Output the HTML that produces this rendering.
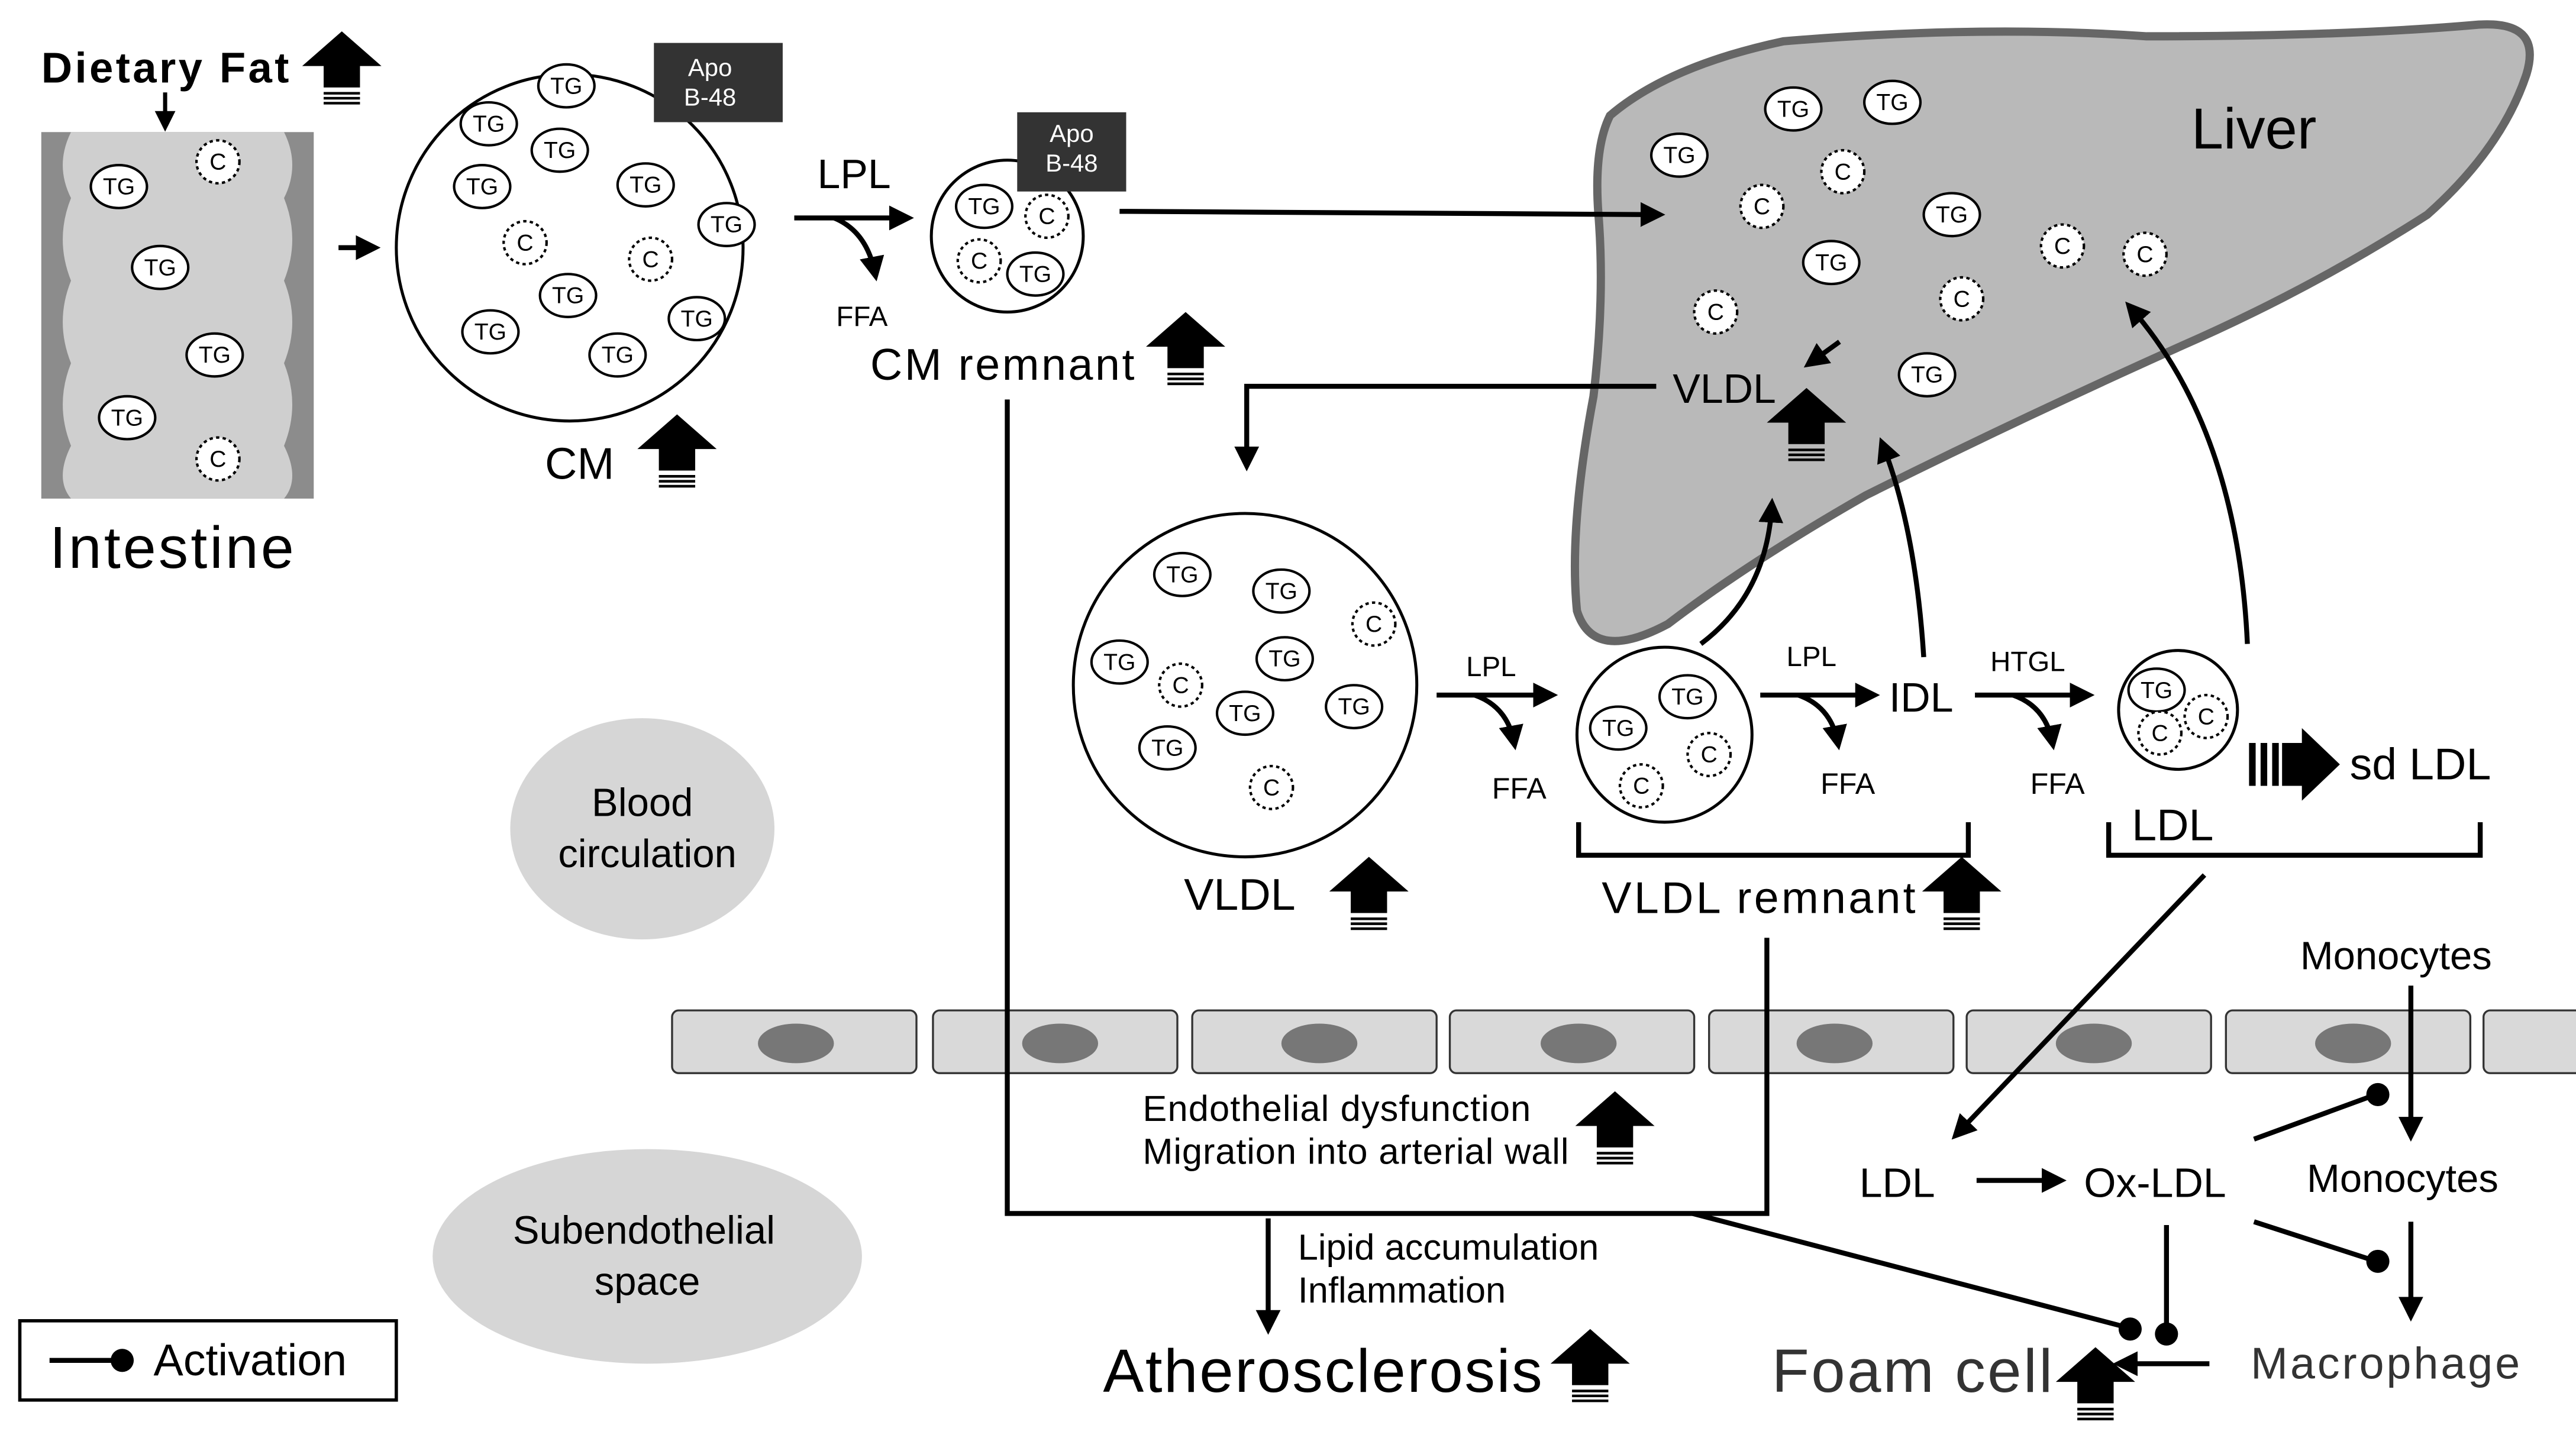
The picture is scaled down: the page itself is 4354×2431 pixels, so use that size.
<!DOCTYPE html>
<html><head><meta charset="utf-8"><style>html,body{margin:0;padding:0;background:#fff}svg{display:block}text{font-family:"Liberation Sans",sans-serif}</style></head><body>
<svg width="4354" height="2431" viewBox="0 0 1560 871" preserveAspectRatio="none" xmlns="http://www.w3.org/2000/svg">
<defs>
<marker id="ah" markerWidth="6" markerHeight="6" refX="3.5" refY="2.5" orient="auto" markerUnits="strokeWidth"><path d="M0,0 L5,2.5 L0,5 z" fill="#000"/></marker>
<g id="up"><polygon points="0,-26 24,-5 11,-5 11,8 -11,8 -11,-5 -24,-5" fill="#000"/><path d="M-11,11.5H11M-11,14.5H11M-11,17.5H11" stroke="#000" stroke-width="1.6"/></g>
<g id="tg"><ellipse rx="17" ry="13" fill="#fff" stroke="#000" stroke-width="1.5"/></g>
<g id="c"><circle r="13" fill="#fff" stroke="#000" stroke-width="1.5" stroke-dasharray="2,2"/></g>
</defs>
<style>.t{text-anchor:middle;dominant-baseline:middle}</style>

<path d="M975,70 Q1010,40 1080,25 Q1200,15 1300,22 Q1420,22 1500,15 Q1540,12 1530,45 Q1515,90 1470,130 Q1400,175 1320,210 Q1220,255 1130,300 Q1060,340 1010,378 Q965,402 955,370 Q950,320 965,240 Q972,180 968,130 Q965,90 975,70 Z" fill="#b9b9b9" stroke="#666" stroke-width="5"/>

<rect x="25" y="80" width="165" height="222" fill="#8c8c8c"/>
<path d="M43,80 Q33,100 43,120 Q33,145 43,170 Q33,195 43,220 Q33,245 43,270 Q33,290 43,302 L172,302 Q182,290 172,270 Q182,245 172,220 Q182,195 172,170 Q182,145 172,120 Q182,100 172,80 Z" fill="#cfcfcf"/>
<g class="t" font-size="14">
<use href="#tg" x="72" y="113"/><text x="72" y="114">TG</text>
<use href="#c" x="132" y="98"/><text x="132" y="99">C</text>
<use href="#tg" x="97" y="162"/><text x="97" y="163">TG</text>
<use href="#tg" x="130" y="215"/><text x="130" y="216">TG</text>
<use href="#tg" x="77" y="253"/><text x="77" y="254">TG</text>
<use href="#c" x="132" y="278"/><text x="132" y="279">C</text>
</g>
<text x="25" y="50" font-size="26" font-weight="bold" textLength="150">Dietary Fat</text>
<use href="#up" x="207" y="45"/>
<line x1="100" y1="56" x2="100" y2="76" stroke="#000" stroke-width="2.5" marker-end="url(#ah)"/>
<text x="30" y="344" font-size="36" textLength="148">Intestine</text>
<line x1="205" y1="150" x2="226" y2="150" stroke="#000" stroke-width="3" marker-end="url(#ah)"/>

<circle cx="345" cy="150" r="105" fill="#fff" stroke="#000" stroke-width="1.8"/>
<g class="t" font-size="14">
<use href="#tg" x="343" y="52"/><text x="343" y="53">TG</text>
<use href="#tg" x="296" y="75"/><text x="296" y="76">TG</text>
<use href="#tg" x="339" y="91"/><text x="339" y="92">TG</text>
<use href="#tg" x="292" y="113"/><text x="292" y="114">TG</text>
<use href="#tg" x="391" y="112"/><text x="391" y="113">TG</text>
<use href="#tg" x="440" y="136"/><text x="440" y="137">TG</text>
<use href="#c" x="318" y="147"/><text x="318" y="148">C</text>
<use href="#c" x="394" y="157"/><text x="394" y="158">C</text>
<use href="#tg" x="344" y="179"/><text x="344" y="180">TG</text>
<use href="#tg" x="422" y="193"/><text x="422" y="194">TG</text>
<use href="#tg" x="297" y="201"/><text x="297" y="202">TG</text>
<use href="#tg" x="374" y="215"/><text x="374" y="216">TG</text>
</g>
<rect x="396" y="26" width="78" height="48" fill="#333"/>
<text x="430" y="42" class="t" fill="#fff" font-size="15">Apo</text><text x="430" y="60" class="t" fill="#fff" font-size="15">B-48</text>
<text x="330" y="290" font-size="27">CM</text>
<use href="#up" x="410" y="277"/>

<text x="495" y="114" font-size="25">LPL</text>
<line x1="481" y1="132" x2="549" y2="132" stroke="#000" stroke-width="3" marker-end="url(#ah)"/>
<path d="M505,132 Q525,140 530,166" fill="none" stroke="#000" stroke-width="3" marker-end="url(#ah)"/>
<text x="522" y="193" class="t" font-size="17">FFA</text>
<circle cx="610" cy="143" r="46" fill="#fff" stroke="#000" stroke-width="1.8"/>
<g class="t" font-size="14">
<use href="#tg" x="596" y="125"/><text x="596" y="126">TG</text>
<use href="#c" x="634" y="131"/><text x="634" y="132">C</text>
<use href="#c" x="593" y="158"/><text x="593" y="159">C</text>
<use href="#tg" x="627" y="166"/><text x="627" y="167">TG</text>
</g>
<rect x="616" y="68" width="66" height="48" fill="#333"/>
<text x="649" y="82" class="t" fill="#fff" font-size="15">Apo</text><text x="649" y="100" class="t" fill="#fff" font-size="15">B-48</text>
<text x="527" y="230" font-size="27" textLength="160">CM remnant</text>
<use href="#up" x="718" y="215"/>
<line x1="678" y1="128" x2="1004" y2="130" stroke="#000" stroke-width="3" marker-end="url(#ah)"/>

<text x="1327" y="90" font-size="35">Liver</text>
<g class="t" font-size="14">
<use href="#tg" x="1086" y="66"/><text x="1086" y="67">TG</text>
<use href="#tg" x="1146" y="62"/><text x="1146" y="63">TG</text>
<use href="#tg" x="1017" y="94"/><text x="1017" y="95">TG</text>
<use href="#c" x="1116" y="104"/><text x="1116" y="105">C</text>
<use href="#c" x="1067" y="125"/><text x="1067" y="126">C</text>
<use href="#tg" x="1182" y="130"/><text x="1182" y="131">TG</text>
<use href="#c" x="1249" y="149"/><text x="1249" y="150">C</text>
<use href="#c" x="1299" y="154"/><text x="1299" y="155">C</text>
<use href="#tg" x="1109" y="159"/><text x="1109" y="160">TG</text>
<use href="#c" x="1188" y="181"/><text x="1188" y="182">C</text>
<use href="#c" x="1039" y="189"/><text x="1039" y="190">C</text>
<use href="#tg" x="1167" y="227"/><text x="1167" y="228">TG</text>
</g>
<text x="1013" y="244" font-size="25">VLDL</text>
<use href="#up" x="1094" y="261"/>
<line x1="1114" y1="207" x2="1096" y2="220" stroke="#000" stroke-width="3" marker-end="url(#ah)"/>
<polyline points="1003,234 755,234 755,281" fill="none" stroke="#000" stroke-width="3" marker-end="url(#ah)"/>

<circle cx="754" cy="415" r="104" fill="#fff" stroke="#000" stroke-width="1.8"/>
<g class="t" font-size="14">
<use href="#tg" x="716" y="348"/><text x="716" y="349">TG</text>
<use href="#tg" x="776" y="358"/><text x="776" y="359">TG</text>
<use href="#c" x="832" y="378"/><text x="832" y="379">C</text>
<use href="#tg" x="678" y="401"/><text x="678" y="402">TG</text>
<use href="#tg" x="778" y="399"/><text x="778" y="400">TG</text>
<use href="#c" x="715" y="415"/><text x="715" y="416">C</text>
<use href="#tg" x="754" y="432"/><text x="754" y="433">TG</text>
<use href="#tg" x="820" y="428"/><text x="820" y="429">TG</text>
<use href="#tg" x="707" y="453"/><text x="707" y="454">TG</text>
<use href="#c" x="770" y="477"/><text x="770" y="478">C</text>
</g>
<text x="717" y="551" font-size="27">VLDL</text>
<use href="#up" x="829" y="545"/>

<text x="903" y="405" class="t" font-size="17">LPL</text>
<line x1="870" y1="421" x2="939" y2="421" stroke="#000" stroke-width="3" marker-end="url(#ah)"/>
<path d="M893,421 Q913,428 917,450" fill="none" stroke="#000" stroke-width="3" marker-end="url(#ah)"/>
<text x="920" y="479" class="t" font-size="18">FFA</text>

<circle cx="1008" cy="445" r="53" fill="#fff" stroke="#000" stroke-width="1.8"/>
<g class="t" font-size="14">
<use href="#tg" x="1022" y="422"/><text x="1022" y="423">TG</text>
<use href="#tg" x="980" y="441"/><text x="980" y="442">TG</text>
<use href="#c" x="1035" y="457"/><text x="1035" y="458">C</text>
<use href="#c" x="994" y="476"/><text x="994" y="477">C</text>
</g>

<text x="1097" y="399" class="t" font-size="17">LPL</text>
<line x1="1066" y1="421" x2="1134" y2="421" stroke="#000" stroke-width="3" marker-end="url(#ah)"/>
<path d="M1089,421 Q1109,428 1113,450" fill="none" stroke="#000" stroke-width="3" marker-end="url(#ah)"/>
<text x="1119" y="476" class="t" font-size="18">FFA</text>
<text x="1144" y="431" font-size="25">IDL</text>
<text x="1228" y="402" class="t" font-size="17">HTGL</text>
<line x1="1196" y1="421" x2="1264" y2="421" stroke="#000" stroke-width="3" marker-end="url(#ah)"/>
<path d="M1219,421 Q1239,428 1243,450" fill="none" stroke="#000" stroke-width="3" marker-end="url(#ah)"/>
<text x="1246" y="476" class="t" font-size="18">FFA</text>

<circle cx="1319" cy="430" r="36" fill="#fff" stroke="#000" stroke-width="1.8"/>
<g class="t" font-size="14">
<use href="#tg" x="1306" y="418"/><text x="1306" y="419">TG</text>
<use href="#c" x="1336" y="434"/><text x="1336" y="435">C</text>
<use href="#c" x="1308" y="444"/><text x="1308" y="445">C</text>
</g>
<text x="1291" y="509" font-size="27">LDL</text>
<path d="M1362,450h4v26h-4zM1369,450h4v26h-4zM1376,450h4v26h-4z" fill="#000"/>
<polygon points="1382,450 1394,450 1394,441 1417,463 1394,485 1394,476 1382,476" fill="#000"/>
<text x="1423" y="472" font-size="27">sd LDL</text>

<path d="M1030,390 Q1070,360 1073,306" fill="none" stroke="#000" stroke-width="3" marker-end="url(#ah)"/>
<path d="M1165,398 Q1160,320 1140,269" fill="none" stroke="#000" stroke-width="3" marker-end="url(#ah)"/>
<path d="M1361,390 Q1355,260 1290,186" fill="none" stroke="#000" stroke-width="3" marker-end="url(#ah)"/>

<path d="M956,498V518H1192V498" fill="none" stroke="#000" stroke-width="3"/>
<path d="M1277,498V518H1502V498" fill="none" stroke="#000" stroke-width="3"/>
<text x="970" y="553" font-size="27" textLength="190">VLDL remnant</text>
<use href="#up" x="1188" y="545"/>

<ellipse cx="389" cy="502" rx="80" ry="67" fill="#d6d6d6"/>
<text x="389" y="488" class="t" font-size="24">Blood</text><text x="392" y="519" class="t" font-size="24">circulation</text>
<ellipse cx="392" cy="761" rx="130" ry="65" fill="#d6d6d6"/>
<text x="390" y="747" class="t" font-size="24">Subendothelial</text><text x="392" y="778" class="t" font-size="24">space</text>

<g fill="#d9d9d9" stroke="#333" stroke-width="1.2">
<rect x="407" y="612" width="148" height="38" rx="4"/><rect x="565" y="612" width="148" height="38" rx="4"/>
<rect x="722" y="612" width="148" height="38" rx="4"/><rect x="878" y="612" width="148" height="38" rx="4"/>
<rect x="1035" y="612" width="148" height="38" rx="4"/><rect x="1191" y="612" width="148" height="38" rx="4"/>
<rect x="1348" y="612" width="148" height="38" rx="4"/><rect x="1504" y="612" width="70" height="38" rx="4"/>
</g>
<g fill="#777"><ellipse cx="482" cy="632" rx="23" ry="12"/><ellipse cx="642" cy="632" rx="23" ry="12"/><ellipse cx="799" cy="632" rx="23" ry="12"/><ellipse cx="956" cy="632" rx="23" ry="12"/><ellipse cx="1111" cy="632" rx="23" ry="12"/><ellipse cx="1268" cy="632" rx="23" ry="12"/><ellipse cx="1425" cy="632" rx="23" ry="12"/></g>

<polyline points="610,242 610,735 1070,735 1070,568" fill="none" stroke="#000" stroke-width="3"/>
<line x1="1025" y1="735" x2="1288" y2="804" stroke="#000" stroke-width="3"/><circle cx="1290" cy="805" r="7"/>
<line x1="768" y1="738" x2="768" y2="804" stroke="#000" stroke-width="3" marker-end="url(#ah)"/>
<text x="692" y="679" font-size="22" textLength="235">Endothelial dysfunction</text>
<text x="692" y="705" font-size="22" textLength="258">Migration into arterial wall</text>
<use href="#up" x="978" y="687"/>
<text x="786" y="763" font-size="22">Lipid accumulation</text>
<text x="786" y="789" font-size="22">Inflammation</text>
<text x="668" y="843" font-size="37" textLength="266">Atherosclerosis</text>
<use href="#up" x="963" y="831"/>

<line x1="1335" y1="530" x2="1185" y2="687" stroke="#000" stroke-width="3" marker-end="url(#ah)"/>
<text x="1393" y="587" font-size="24">Monocytes</text>
<line x1="1460" y1="597" x2="1460" y2="687" stroke="#000" stroke-width="3" marker-end="url(#ah)"/>
<text x="1126" y="725" font-size="25">LDL</text>
<line x1="1197" y1="715" x2="1247" y2="715" stroke="#000" stroke-width="3" marker-end="url(#ah)"/>
<text x="1262" y="725" font-size="25">Ox-LDL</text>
<text x="1397" y="722" font-size="24">Monocytes</text>
<line x1="1365" y1="690" x2="1436" y2="664" stroke="#000" stroke-width="3"/><circle cx="1440" cy="663" r="7"/>
<line x1="1365" y1="740" x2="1436" y2="763" stroke="#000" stroke-width="3"/><circle cx="1440" cy="764" r="7"/>
<line x1="1460" y1="740" x2="1460" y2="796" stroke="#000" stroke-width="3" marker-end="url(#ah)"/>
<line x1="1312" y1="742" x2="1312" y2="804" stroke="#000" stroke-width="3"/><circle cx="1312" cy="808" r="7"/>
<text x="1363" y="835" font-size="27" fill="#333" textLength="163">Macrophage</text>
<line x1="1338" y1="826" x2="1284" y2="826" stroke="#000" stroke-width="3" marker-end="url(#ah)"/>
<text x="1073" y="843" font-size="37" fill="#333" textLength="170">Foam cell</text>
<use href="#up" x="1269" y="842"/>

<rect x="12" y="800" width="228" height="48" fill="#fff" stroke="#000" stroke-width="2"/>
<line x1="30" y1="824" x2="70" y2="824" stroke="#000" stroke-width="3"/><circle cx="74" cy="824" r="7"/>
<text x="93" y="833" font-size="27">Activation</text>
</svg>
</body></html>
